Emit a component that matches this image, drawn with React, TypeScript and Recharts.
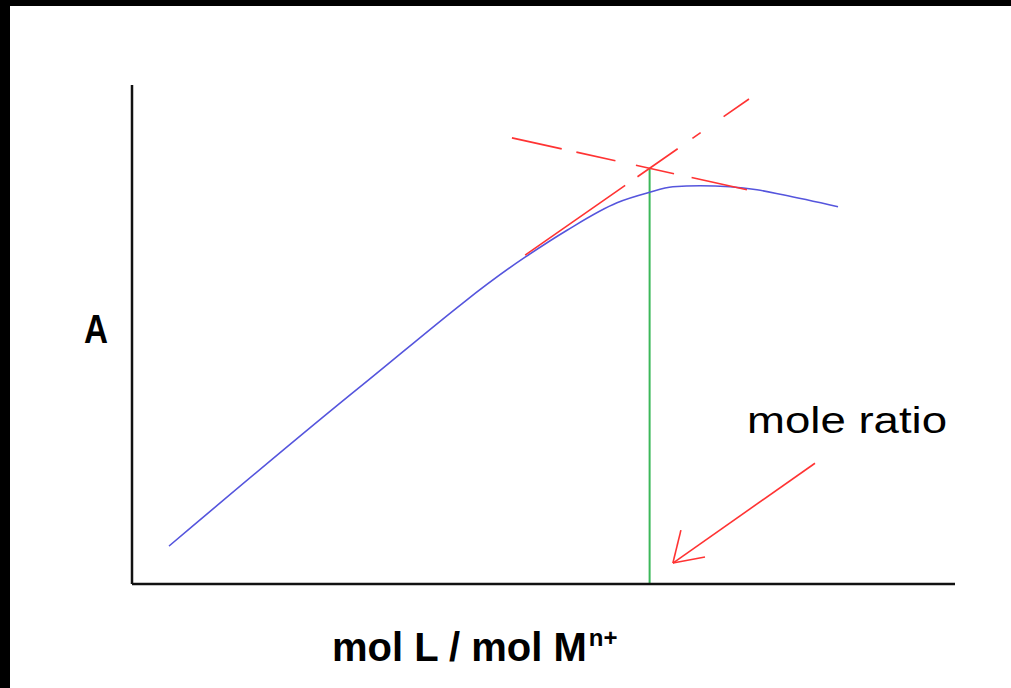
import { ComposedChart, Line, XAxis, YAxis, ReferenceLine, Customized } from "recharts";

// mole ratio (mol L / mol M) vs absorbance
const ratio = [0.143, 0.881, 1.519, 1.681, 1.874, 1.994, 2.09, 2.195, 2.311, 2.415, 2.515, 2.728];
const absorbance = [0.076, 0.395, 0.655, 0.709, 0.764, 0.784, 0.796, 0.798, 0.796, 0.79, 0.78, 0.756];

// extrapolated tangents
const risingX = [1.519, 2.384];
const risingY = [0.659, 0.972];
const fallingX = [1.468, 2.376];
const fallingY = [0.894, 0.79];

// equivalence point
const equivX = 2.0;
const equivY = 0.833;

// annotation arrow: shaft, then the two head strokes
const arrowShaft = [{ x: 2.639, y: 0.242 }, { x: 2.09, y: 0.042 }];
const arrowHeadA = [{ x: 2.09, y: 0.042 }, { x: 2.121, y: 0.108 }];
const arrowHeadB = [{ x: 2.09, y: 0.042 }, { x: 2.214, y: 0.054 }];

const curve = ratio.map((x, i) => ({ x, y: absorbance[i] }));
const rising = risingX.map((x, i) => ({ x, y: risingY[i] }));
const falling = fallingX.map((x, i) => ({ x, y: fallingY[i] }));

const RED = "#ff3333";
const FONT = "'Liberation Sans', Arial, sans-serif";

function Labels() {
  return (
    <g fontFamily={FONT} fill="#000">
      <text x={84} y={343} fontSize={40} fontWeight="bold" textLength={24} lengthAdjust="spacingAndGlyphs">
        A
      </text>
      <text x={747} y={433} fontSize={36} textLength={200} lengthAdjust="spacingAndGlyphs">
        mole ratio
      </text>
      <text x={332} y={661} fontSize={40} fontWeight="bold">
        mol L / mol M
        <tspan fontSize={24} dy={-15} dx={2}>
          n+
        </tspan>
      </text>
    </g>
  );
}

export default function App() {
  return (
    <div style={{ position: "absolute", left: 0, top: 0, width: 1011, height: 688, background: "#fff" }}>
      <div style={{ position: "absolute", left: 0, top: 0, width: 1011, height: 6, background: "#000" }} />
      <div style={{ position: "absolute", left: 0, top: 0, width: 10, height: 688, background: "#000" }} />
      <div style={{ position: "absolute", left: 0, top: 0 }}>
        <ComposedChart width={1011} height={688} margin={{ top: 85, right: 56, bottom: 103, left: 131 }}>
          <XAxis
            type="number"
            dataKey="x"
            domain={[0, 3.18]}
            height={1}
            tick={false}
            tickLine={false}
            axisLine={{ stroke: "#111", strokeWidth: 2.5 }}
            allowDataOverflow
          />
          <YAxis
            type="number"
            dataKey="y"
            domain={[0, 1]}
            width={1}
            tick={false}
            tickLine={false}
            axisLine={{ stroke: "#111", strokeWidth: 2.5 }}
            allowDataOverflow
          />
          <ReferenceLine
            segment={[{ x: equivX, y: 0 }, { x: equivX, y: equivY }]}
            stroke="#3cb85a"
            strokeWidth={2}
            ifOverflow="visible"
          />
          <Line
            data={curve}
            dataKey="y"
            type="monotone"
            stroke="#5555dd"
            strokeWidth={1.6}
            dot={false}
            isAnimationActive={false}
          />
          <Line
            data={rising}
            dataKey="y"
            type="linear"
            stroke={RED}
            strokeWidth={1.6}
            strokeDasharray="122 15 49 18 10 28 40"
            dot={false}
            isAnimationActive={false}
          />
          <Line
            data={falling}
            dataKey="y"
            type="linear"
            stroke={RED}
            strokeWidth={1.6}
            strokeDasharray="51 15 40 21 39 18 60"
            dot={false}
            isAnimationActive={false}
          />
          <ReferenceLine segment={arrowShaft} stroke={RED} strokeWidth={1.6} ifOverflow="visible" />
          <ReferenceLine segment={arrowHeadA} stroke={RED} strokeWidth={1.6} ifOverflow="visible" />
          <ReferenceLine segment={arrowHeadB} stroke={RED} strokeWidth={1.6} ifOverflow="visible" />
          <Customized component={Labels} />
        </ComposedChart>
      </div>
    </div>
  );
}
